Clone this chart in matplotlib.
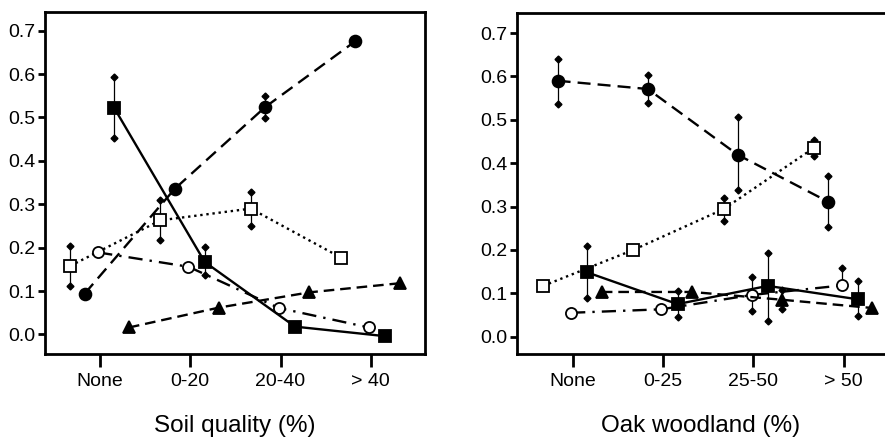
import numpy as np
import matplotlib
matplotlib.use("Agg")
import matplotlib.pyplot as plt

plt.rcParams['font.family'] = ['Liberation Sans', 'DejaVu Sans']

soil_cats = ["None", "0-20", "20-40", "> 40"]
oak_cats = ["None", "0-25", "25-50", "> 50"]
nan = np.nan

# ---- Soil quality panel ----
soil_fcircle = [0.094, 0.336, 0.524, 0.676]
soil_fcircle_lo = [nan, nan, 0.499, nan]
soil_fcircle_hi = [nan, nan, 0.550, nan]

soil_fsquare = [0.521, 0.167, 0.018, -0.004]
soil_fsquare_lo = [0.452, 0.137, nan, nan]
soil_fsquare_hi = [0.594, 0.202, nan, nan]

soil_osquare = [0.158, 0.263, 0.290, 0.177]
soil_osquare_lo = [0.112, 0.217, 0.250, nan]
soil_osquare_hi = [0.204, 0.309, 0.329, nan]

soil_ocircle = [0.189, 0.156, 0.061, 0.016]
soil_ocircle_lo = [nan, nan, nan, nan]
soil_ocircle_hi = [nan, nan, nan, nan]

soil_triangle = [0.016, 0.062, 0.097, 0.118]
soil_triangle_lo = [nan, nan, nan, nan]
soil_triangle_hi = [nan, nan, nan, nan]

# ---- Oak woodland panel ----
oak_fcircle = [0.590, 0.571, 0.419, 0.311]
oak_fcircle_lo = [0.537, 0.538, 0.339, 0.253]
oak_fcircle_hi = [0.641, 0.604, 0.507, 0.370]

oak_fsquare = [0.148, 0.075, 0.117, 0.086]
oak_fsquare_lo = [0.090, 0.045, 0.036, 0.048]
oak_fsquare_hi = [0.208, 0.106, 0.193, 0.129]

oak_osquare = [0.117, 0.200, 0.294, 0.435]
oak_osquare_lo = [nan, nan, 0.267, 0.416]
oak_osquare_hi = [nan, nan, 0.320, 0.454]

oak_ocircle = [0.055, 0.063, 0.096, 0.118]
oak_ocircle_lo = [nan, nan, 0.059, nan]
oak_ocircle_hi = [nan, nan, 0.137, 0.158]

oak_triangle = [0.103, 0.103, 0.085, 0.066]
oak_triangle_lo = [nan, nan, 0.063, nan]
oak_triangle_hi = [nan, nan, 0.108, nan]

fig = plt.figure(figsize=(8.85, 4.37), dpi=100)
ax1 = fig.add_axes([0.0508, 0.19, 0.4294, 0.7825])
ax2 = fig.add_axes([0.5842, 0.19, 0.4158, 0.780])

styles = {
    'osquare': dict(offset=-0.33, marker='s', mfc='white', ls=(0, (1, 1.6)), ms=8, z=4),
    'fcircle': dict(offset=-0.17, marker='o', mfc='black', ls=(0, (5.5, 3)), ms=8.5, z=5),
    'ocircle': dict(offset=-0.02, marker='o', mfc='white', ls=(0, (6, 3, 1, 3)), ms=8, z=4),
    'fsquare': dict(offset=0.16, marker='s', mfc='black', ls='-', ms=8.5, z=5),
    'triangle': dict(offset=0.32, marker='^', mfc='black', ls=(0, (4.5, 2.5)), ms=8.5, z=5),
}

def draw(ax, key, vals, lo, hi):
    st = styles[key]
    x = np.arange(len(vals)) + st['offset']
    vals = np.array(vals, float); lo = np.array(lo, float); hi = np.array(hi, float)
    for xi, l, h, v in zip(x, lo, hi, vals):
        top = h if not np.isnan(h) else v
        bot = l if not np.isnan(l) else v
        if top != bot:
            ax.plot([xi, xi], [bot, top], color='black', lw=0.9, zorder=2)
        for e in (l, h):
            if not np.isnan(e):
                ax.plot([xi], [e], marker='D', ms=3.5, color='black', ls='none', zorder=2)
    ax.plot(x, vals, color='black', ls=st['ls'], lw=1.7, marker=st['marker'],
            mfc=st['mfc'], mec='black', mew=1.3, ms=st['ms'], zorder=st['z'])

for key, v, l, h in [
    ('osquare', soil_osquare, soil_osquare_lo, soil_osquare_hi),
    ('ocircle', soil_ocircle, soil_ocircle_lo, soil_ocircle_hi),
    ('fcircle', soil_fcircle, soil_fcircle_lo, soil_fcircle_hi),
    ('fsquare', soil_fsquare, soil_fsquare_lo, soil_fsquare_hi),
    ('triangle', soil_triangle, soil_triangle_lo, soil_triangle_hi),
]:
    draw(ax1, key, v, l, h)

for key, v, l, h in [
    ('osquare', oak_osquare, oak_osquare_lo, oak_osquare_hi),
    ('ocircle', oak_ocircle, oak_ocircle_lo, oak_ocircle_hi),
    ('fcircle', oak_fcircle, oak_fcircle_lo, oak_fcircle_hi),
    ('fsquare', oak_fsquare, oak_fsquare_lo, oak_fsquare_hi),
    ('triangle', oak_triangle, oak_triangle_lo, oak_triangle_hi),
]:
    draw(ax2, key, v, l, h)

ax1.set_xlim(-0.61, 3.6)
ax1.set_ylim(-0.045, 0.743)
ax2.set_xlim(-0.62, 3.46)
ax2.set_ylim(-0.04, 0.746)

for ax, cats, label in [(ax1, soil_cats, "Soil quality (%)"), (ax2, oak_cats, "Oak woodland (%)")]:
    ax.set_xticks(range(4))
    ax.set_xticklabels(cats)
    ax.set_yticks(np.arange(0, 0.71, 0.1))
    ax.set_yticklabels([f"{t:.1f}" for t in np.arange(0, 0.71, 0.1)])
    ax.tick_params(axis='x', length=9, width=2, pad=5, labelsize=14, direction='out')
    ax.tick_params(axis='y', length=5, width=2, pad=2, labelsize=14, direction='out')
    for s in ax.spines.values():
        s.set_linewidth(2)
    ax.set_xlabel(label, fontsize=17.5, labelpad=18)

ax2.spines['right'].set_visible(False)

fig.savefig("out.png", dpi=100)
